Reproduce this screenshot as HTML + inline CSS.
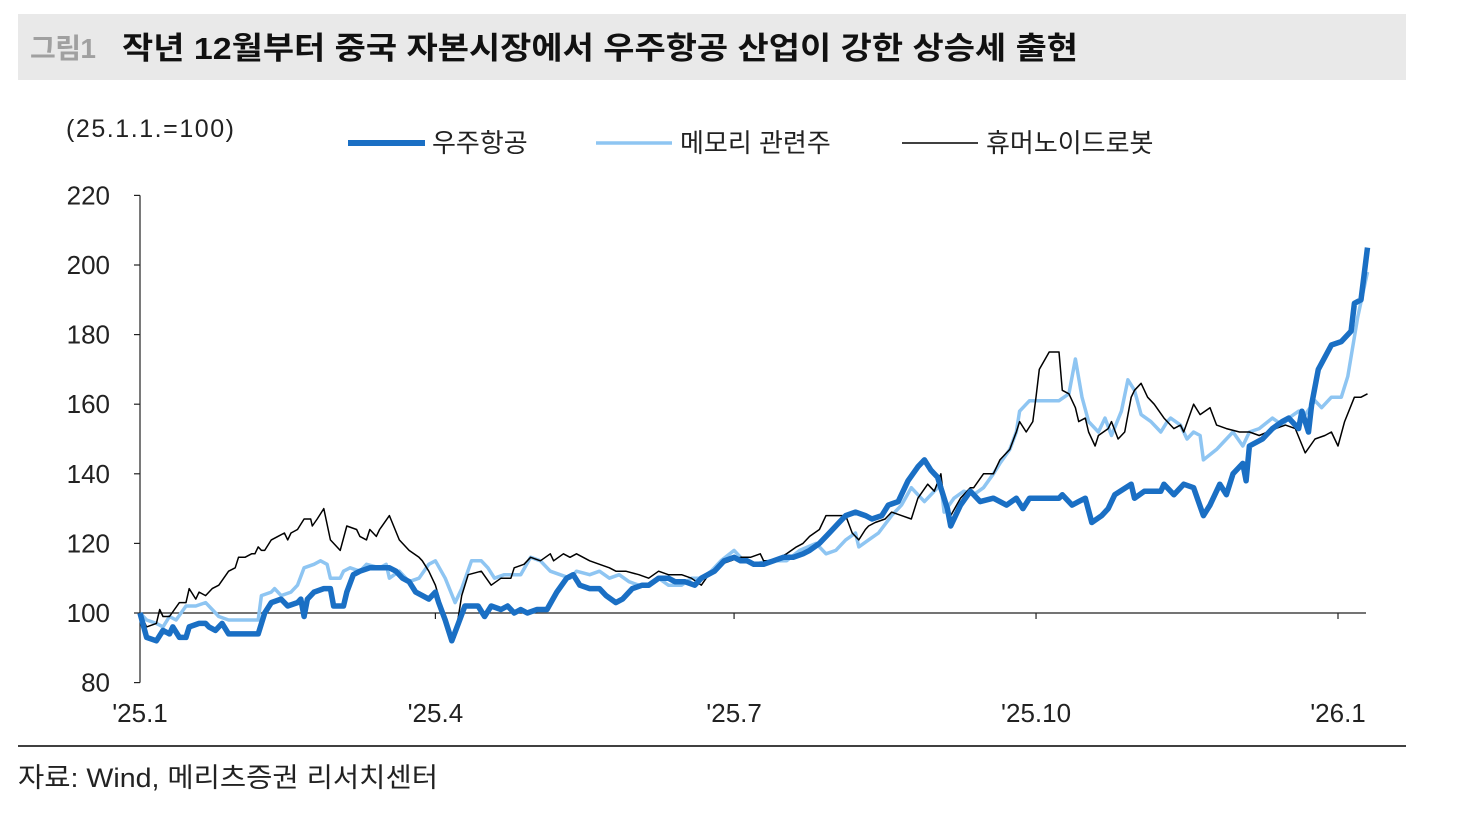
<!DOCTYPE html>
<html><head><meta charset="utf-8">
<style>
body{margin:0;background:#fff;width:1470px;height:820px;overflow:hidden;font-family:"Liberation Sans","Noto Sans CJK KR",sans-serif;}
</style></head>
<body>
<svg width="1470" height="820" xmlns="http://www.w3.org/2000/svg" style="font-family:'Liberation Sans','Noto Sans CJK KR',sans-serif">
<rect x="18" y="14" width="1388" height="66" fill="#e9e9e9"/>
<text x="30" y="58" font-size="28" font-weight="bold" fill="#a0a0a0" textLength="66">그림1</text>
<text x="122" y="59" font-size="31" font-weight="bold" fill="#111" textLength="956" lengthAdjust="spacingAndGlyphs">작년 12월부터 중국 자본시장에서 우주항공 산업이 강한 상승세 출현</text>
<text x="66" y="137" font-size="25" fill="#222" textLength="168">(25.1.1.=100)</text>
<g>
<line x1="348" y1="143" x2="425" y2="143" stroke="#1a6fc4" stroke-width="6"/>
<text x="432" y="152" font-size="26" fill="#222">우주항공</text>
<line x1="596" y1="143" x2="672" y2="143" stroke="#8ec5f2" stroke-width="3.5"/>
<text x="680" y="152" font-size="26" fill="#222">메모리 관련주</text>
<line x1="902" y1="143" x2="978" y2="143" stroke="#000" stroke-width="1.5"/>
<text x="986" y="152" font-size="26" fill="#222">휴머노이드로봇</text>
</g>
<g id="axes"></g>
<g id="plot"></g>
<line x1="18" y1="746" x2="1406" y2="746" stroke="#000" stroke-width="1.5"/>
<text x="18" y="787" font-size="27" fill="#222" textLength="420" lengthAdjust="spacingAndGlyphs">자료: Wind, 메리츠증권 리서치센터</text>
</svg>
<script>
const yTicks=[80,100,120,140,160,180,200,220];
const xTickDays=[0,90,181,273,365];
const xTickLabels=["'25.1","'25.4","'25.7","'25.10","'26.1"];
const aeroDays=[0,2,5,7,9,10,12,14,15,18,20,21,23,25,27,30,35,36,38,40,43,45,48,49,50,51,53,56,58,59,62,63,65,67,70,73,76,78,80,82,84,86,88,90,91,93,95,97,99,101,103,105,107,110,112,114,116,118,121,124,127,130,132,134,137,140,142,145,147,150,153,155,158,161,163,166,169,171,173,175,178,181,183,185,187,190,193,196,199,202,204,207,210,213,215,218,221,223,226,228,231,234,237,239,241,243,245,246,247,250,253,256,260,264,267,269,271,280,281,284,286,288,290,293,295,297,302,303,306,311,312,315,318,321,324,326,329,331,333,336,337,338,342,345,348,350,353,354,356,357,359,363,366,369,370,372,374];
const aeroVals=[100,93,92,95,94,96,93,93,96,97,97,96,95,97,94,94,94,94,100,103,104,102,103,104,99,104,106,107,107,102,102,106,111,112,113,113,113,112,110,109,106,105,104,106,103,98,92,97,102,102,102,99,102,101,102,100,101,100,101,101,106,110,111,108,107,107,105,103,104,107,108,108,110,110,109,109,108,110,111,112,115,116,115,115,114,114,115,116,116,117,118,120,123,126,128,129,128,127,128,131,132,138,142,144,141,139,133,130,125,131,135,132,133,131,133,130,133,133,134,131,132,133,126,128,130,134,137,133,135,135,137,134,137,136,128,131,137,134,140,143,138,148,150,153,155,156,153,158,152,160,170,177,178,181,189,190,205];
const memDays=[0,2,5,7,9,11,14,17,20,22,24,27,34,36,37,40,41,43,46,48,50,53,55,57,58,61,62,64,67,69,73,75,76,79,82,85,88,90,93,96,98,101,104,106,108,111,116,119,122,125,128,131,133,137,140,143,146,149,152,155,158,161,165,168,171,174,177,181,184,187,192,197,201,206,209,212,215,218,219,222,225,229,232,235,237,239,241,244,245,248,251,254,257,260,262,265,267,268,271,276,280,283,285,287,289,292,294,296,299,301,303,305,308,311,313,314,317,319,321,323,324,328,330,333,336,338,341,345,348,350,353,355,358,360,363,366,368,371,374];
const memVals=[100,98,97,96,99,98,102,102,103,101,99,98,98,98,105,106,107,105,106,108,113,114,115,114,110,110,112,113,112,114,113,114,110,112,109,110,114,115,110,103,107,115,115,113,110,111,111,116,115,112,111,110,112,111,112,110,111,109,108,108,110,108,108,110,110,112,115,118,115,114,115,115,118,120,117,118,121,123,119,121,123,128,131,136,134,132,134,137,129,133,135,134,136,140,143,147,152,158,161,161,161,163,173,162,155,152,156,151,158,167,164,157,155,152,155,156,154,150,152,151,144,147,149,152,148,152,153,156,154,156,158,157,161,159,162,162,168,185,198];
const humDays=[0,2,5,6,7,9,12,14,15,17,18,20,22,24,27,29,30,32,34,35,36,37,38,40,42,44,45,46,48,50,52,52.5,54,56,58,61,63,66,67,69,70,72,73,76,79,82,85,86,88,90,94,96,98,100,104,107,110,113,114,117,119,122,125,126,129,131,133,137,140,143,145,148,152,155,158,161,165,168,171,174,177,183,186,189,190,193,197,200,202,204,207,209,210,213,215,217,219,221,222,224,227,229,232,235,237,240,242,244,245,247,250,253,254,257,260,262,264,265,267,268,270,272,273,274,277,280,281,283,285,286,288,289,291,292,295,296,298,300,302,303,305,307,309,312,315,317,318,321,323,326,328,331,335,338,341,346,349,352,355,358,361,363,365,367,370,372,374];
const humVals=[100,96,97,101,99,99,103,103,107,104,106,105,107,108,112,113,116,116,117,117,119,118,118,121,122,123,121,123,124,127,127,125,127,130,121,118,125,124,122,121,124,122,124,128,121,118,116,115,112,108,95,93,105,111,112,108,110,110,113,114,116,115,117,115,117,116,117,115,114,113,112,112,111,110,112,111,111,110,108,112,114,116,116,117,115,115,117,119,120,122,124,128,128,128,128,123,121,124,125,126,127,129,128,127,133,137,135,140,132,128,133,136,136,140,140,144,146,147,152,155,152,155,162,170,175,175,164,163,159,155,156,152,148,151,153,155,150,152,162,164,166,162,160,156,153,154,152,160,157,159,154,153,152,152,151,153,154,153,146,150,151,152,148,155,162,162,163,164];

const NS='http://www.w3.org/2000/svg';
const X0=140, PXD=(1338-140)/365;
function xs(d){return X0+d*PXD;}
function ys(v){return 613-(v-100)*3.48;}
function mk(tag,attrs,parent){const e=document.createElementNS(NS,tag);for(const k in attrs)e.setAttribute(k,attrs[k]);parent.appendChild(e);return e;}
const axes=document.getElementById('axes'), plot=document.getElementById('plot');
let a=mk('line',{x1:X0,y1:ys(220),x2:X0,y2:ys(80),stroke:'#222','stroke-width':1.2},axes);


let xa=mk('line',{x1:X0,y1:ys(100),x2:1366,y2:ys(100),stroke:'#222','stroke-width':1.2},axes);


yTicks.forEach(v=>{
  mk('line',{x1:X0-6,y1:ys(v),x2:X0,y2:ys(v),stroke:'#222','stroke-width':1.2},axes);
  const t=mk('text',{x:110,y:ys(v)+9,'font-size':26,'text-anchor':'end',fill:'#222'},axes);
  t.textContent=v;
  
  
});
xTickDays.forEach((d,i)=>{
  if(i>0) mk('line',{x1:xs(d),y1:ys(100),x2:xs(d),y2:ys(100)+6,stroke:'#222','stroke-width':1.2},axes);
  const t=mk('text',{x:xs(d),y:722,'font-size':26,'text-anchor':'middle',fill:'#222'},axes);
  t.textContent=xTickLabels[i];
  
  
});
function line(days,vals,color,w,name){
  const p=mk('polyline',{points:days.map((d,i)=>xs(d).toFixed(1)+','+ys(vals[i]).toFixed(1)).join(' '),fill:'none',stroke:color,'stroke-width':w,'stroke-linejoin':'round'},plot);
  
  
}
line(memDays,memVals,'#8ec5f2',3.5,'memory-line');
line(humDays,humVals,'#000',1.5,'humanoid-line');
line(aeroDays,aeroVals,'#1a6fc4',5.5,'aerospace-line');
</script>
</body></html>
